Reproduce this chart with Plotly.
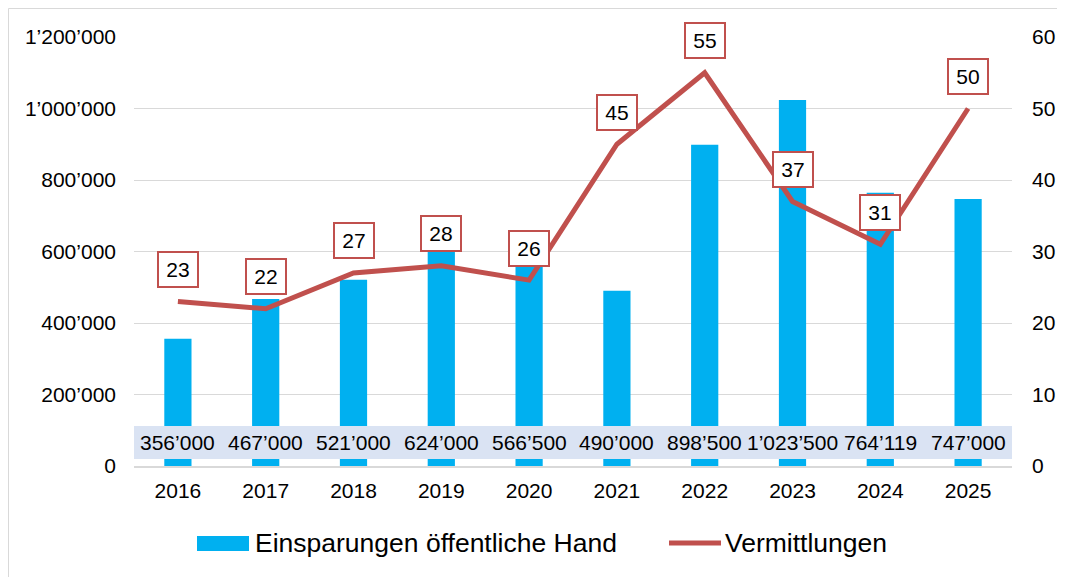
import plotly.graph_objects as go

years = [2016, 2017, 2018, 2019, 2020, 2021, 2022, 2023, 2024, 2025]
savings = [356000, 467000, 521000, 624000, 566500, 490000, 898500, 1023500, 764119, 747000]
placements = [23, 22, 27, 28, 26, 45, 55, 37, 31, 50]
left_ticks = [0, 200000, 400000, 600000, 800000, 1000000, 1200000]
right_ticks = [0, 10, 20, 30, 40, 50, 60]
series_names = ["Einsparungen öffentliche Hand", "Vermittlungen"]

def fmt(v):
    return f"{v:,}".replace(",", "’")

BLUE = "#00b0f0"
RED = "#c0504d"
FONT = "Liberation Sans, Arial, sans-serif"

OFF = 8  # page body margin
W, H = 1065 - OFF, 577 - OFF
# plot area in image pixels
L, R, T, B = 134, 1012, 37, 466
def px(x):
    return (x - L) / (R - L)
def py(y):
    return (B - y) / (B - T)

fig = go.Figure()
fig.add_trace(go.Bar(x=years, y=savings, name=series_names[0],
                     marker=dict(color=BLUE, line=dict(width=0)), width=0.31))
fig.add_trace(go.Scatter(x=years, y=placements, name=series_names[1], yaxis="y2",
                         mode="lines", line=dict(color=RED, width=5)))

annotations = []
for yr, v in zip(years, placements):
    annotations.append(dict(x=yr, y=v, xref="x", yref="y2", text=str(v), showarrow=False,
                            yshift=32, xanchor="center", yanchor="middle",
                            font=dict(size=21, color="black", family=FONT),
                            width=32, height=27,
                            bgcolor="white", bordercolor=RED, borderwidth=2, borderpad=3))
for yr, v in zip(years, savings):
    annotations.append(dict(x=yr, y=py(442.5), xref="x", yref="paper", text=fmt(v), showarrow=False,
                            xanchor="center", yanchor="middle",
                            font=dict(size=21, color="black", family=FONT)))

# manual legend
annotations.append(dict(x=px(253), y=py(543), xref="paper", yref="paper", text=series_names[0],
                        showarrow=False, xanchor="left", yanchor="middle",
                        font=dict(size=26.5, color="black", family=FONT)))
annotations.append(dict(x=px(723), y=py(543), xref="paper", yref="paper", text=series_names[1],
                        showarrow=False, xanchor="left", yanchor="middle",
                        font=dict(size=26.5, color="black", family=FONT)))

shapes = [
    dict(type="rect", xref="paper", yref="paper", x0=0, x1=1, y0=py(459), y1=py(426),
         fillcolor="#dae3f3", line=dict(width=0), layer="above"),
    dict(type="rect", xref="paper", yref="paper", x0=px(8.5), x1=px(1080),
         y0=py(600), y1=py(8.5), line=dict(color="#d9d9d9", width=1),
         fillcolor="rgba(0,0,0,0)"),
    dict(type="rect", xref="paper", yref="paper", x0=px(197), x1=px(249),
         y0=py(551), y1=py(536), fillcolor=BLUE, line=dict(width=0)),
    dict(type="line", xref="paper", yref="paper", x0=px(669), x1=px(721),
         y0=py(543), y1=py(543), line=dict(color=RED, width=5)),
]
fig.update_layout(
    width=W, height=H,
    margin=dict(l=L - OFF, r=1065 - R, t=T - OFF, b=577 - B, autoexpand=False),
    paper_bgcolor="white", plot_bgcolor="white",
    font=dict(family=FONT, size=21, color="black"),
    showlegend=False,
    xaxis=dict(range=[2015.5, 2025.5], tickvals=years, ticktext=[str(y) for y in years],
               showgrid=False, showline=True, linecolor="#d9d9d9", linewidth=1.5,
               zeroline=False, ticks="", tickfont=dict(size=21), ticklabelstandoff=5),
    yaxis=dict(range=[0, 1200000], tickvals=left_ticks, ticktext=[fmt(t) for t in left_ticks],
               showgrid=True, gridcolor="#d9d9d9", gridwidth=1.2, zeroline=False,
               ticks="", ticklabelstandoff=17, tickfont=dict(size=21)),
    yaxis2=dict(range=[0, 60], tickvals=right_ticks, overlaying="y", side="right",
                showgrid=False, zeroline=False, ticks="", ticklabelstandoff=19,
                tickfont=dict(size=21)),
    annotations=annotations,
    shapes=shapes,
)
fig.write_html("out.html")
